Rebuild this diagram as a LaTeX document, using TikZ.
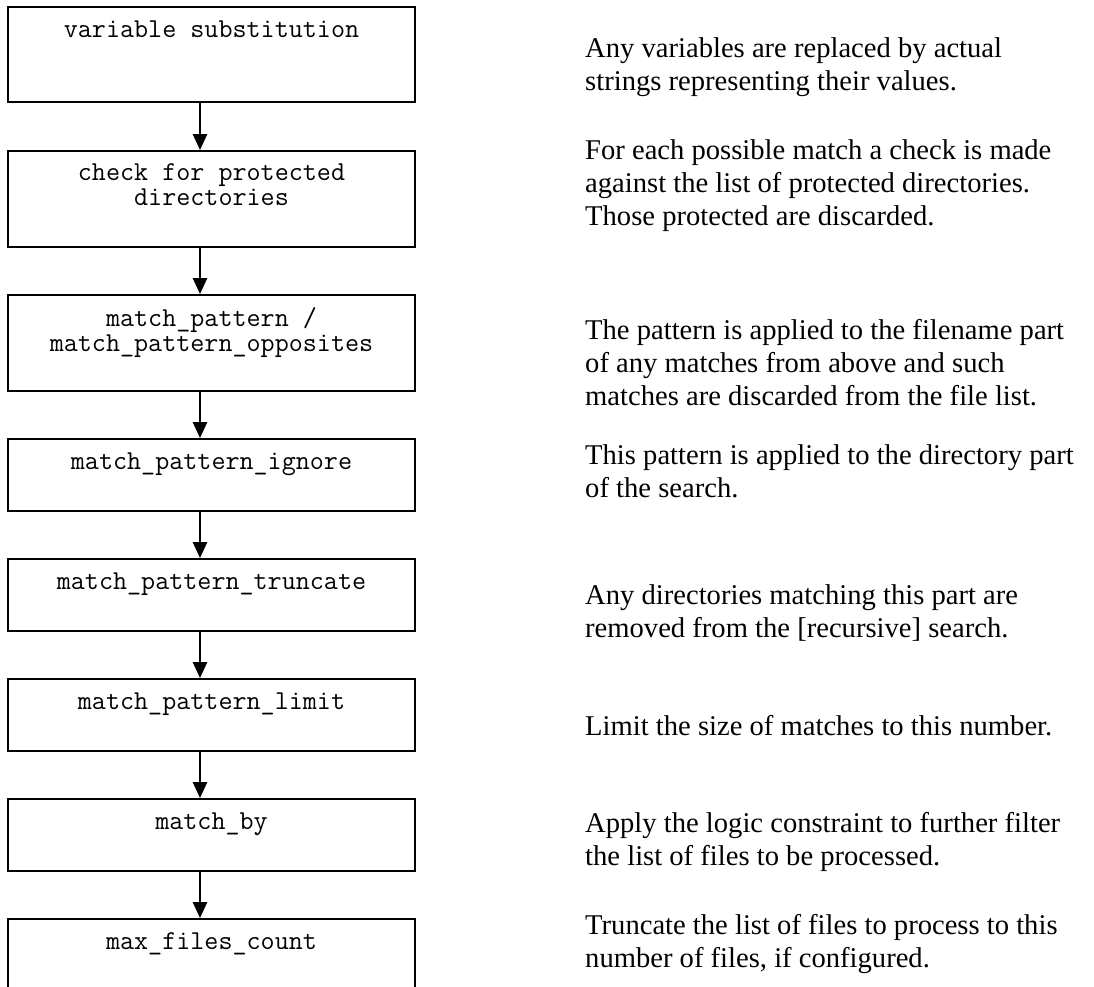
\documentclass[tikz,border=0pt]{standalone}
\usepackage{fontspec}
\setmainfont{Liberation Serif}
\usetikzlibrary{arrows.meta}
\begin{document}
\begin{tikzpicture}[x=1pt,y=1pt,
  stepbox/.style={draw=black, line width=1.8pt, rectangle, minimum width=407pt, inner sep=0pt},
  boxtext/.style={font=\ttfamily\fontsize{27.3}{25}\selectfont, align=center, anchor=north, inner sep=0pt,
    execute at begin node={\rule{0pt}{18pt}}},
  desc/.style={font=\fontsize{28.6}{33}\selectfont, align=left, anchor=north west, inner sep=0pt,
    execute at begin node={\rule{0pt}{23pt}}},
  arr/.style={line width=2.5pt, -{Triangle[width=14pt,length=16pt]}}]
\useasboundingbox (0,0) rectangle (1094,-986);
\clip (0,0) rectangle (1094,-986);
\coordinate (ax) at (200,0);
% boxes
\node[stepbox, minimum height=95pt] (b1) at (211.5,-54.5) {};
\node[stepbox, minimum height=96pt] (b2) at (211.5,-199) {};
\node[stepbox, minimum height=96pt] (b3) at (211.5,-343) {};
\node[stepbox, minimum height=72pt] (b4) at (211.5,-475) {};
\node[stepbox, minimum height=72pt] (b5) at (211.5,-595) {};
\node[stepbox, minimum height=72pt] (b6) at (211.5,-715) {};
\node[stepbox, minimum height=72pt] (b7) at (211.5,-835) {};
\node[stepbox, minimum height=81pt] (b8) at (211.5,-959.5) {};
% box texts
\node[boxtext] (t1) at (211.5,-19.5) {variable substitution};
\node[boxtext] (t2) at (211.5,-163.5) {check for protected\\directories};
\node[boxtext] (t3) at (211.5,-307.5) {match\_pattern /\\match\_pattern\_opposites};
\node[boxtext] (t4) at (211.5,-451.5) {match\_pattern\_ignore};
\node[boxtext] (t5) at (211.5,-571.5) {match\_pattern\_truncate};
\node[boxtext] (t6) at (211.5,-691.5) {match\_pattern\_limit};
\node[boxtext] (t7) at (211.5,-811.5) {match\_by};
\node[boxtext] (t8) at (211.5,-931.5) {max\_files\_count};
% arrows
\draw[arr] (b1.south -| ax) -- (b2.north -| ax);
\draw[arr] (b2.south -| ax) -- (b3.north -| ax);
\draw[arr] (b3.south -| ax) -- (b4.north -| ax);
\draw[arr] (b4.south -| ax) -- (b5.north -| ax);
\draw[arr] (b5.south -| ax) -- (b6.north -| ax);
\draw[arr] (b6.south -| ax) -- (b7.north -| ax);
\draw[arr] (b7.south -| ax) -- (b8.north -| ax);
% descriptions
\node[desc] (d1) at (585,-37) {Any variables are replaced by actual\\strings representing their values.};
\node[desc] (d2) at (585,-139) {For each possible match a check is made\\against the list of protected directories.\\Those protected are discarded.};
\node[desc] (d3) at (585,-319) {The pattern is applied to the filename part\\of any matches from above and such\\matches are discarded from the file list.};
\node[desc] (d4) at (585,-444) {This pattern is applied to the directory part\\of the search.};
\node[desc] (d5) at (585,-584) {Any directories matching this part are\\removed from the [recursive] search.};
\node[desc] (d6) at (585,-712) {Limit the size of matches to this number.};
\node[desc] (d7) at (585,-812) {Apply the logic constraint to further filter\\the list of files to be processed.};
\node[desc] (d8) at (585,-914) {Truncate the list of files to process to this\\number of files, if configured.};
\end{tikzpicture}
\end{document}
